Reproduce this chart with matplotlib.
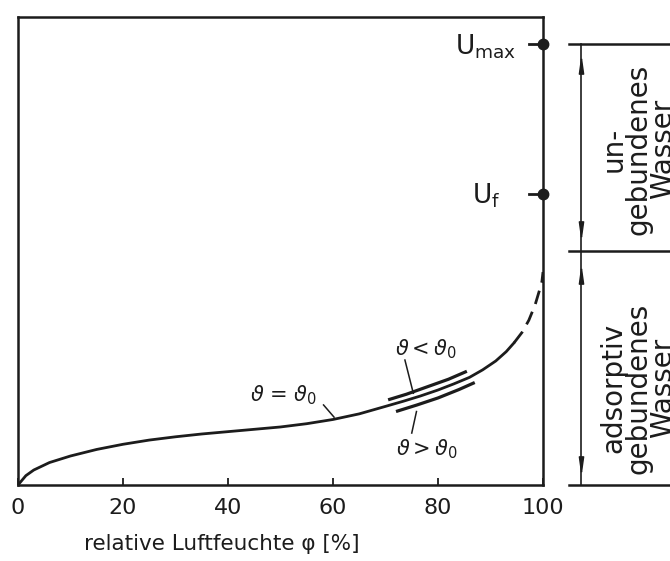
import numpy as np
import matplotlib.pyplot as plt

# sorption isotherm (phi in %, u in % of axis height)
phi = [0, 1.5, 3, 6, 10, 15, 20, 25, 30, 35, 40, 45, 50, 55, 60, 65, 70,
       73.4, 76.6, 80, 83, 86, 88.5, 91, 93, 94.5]
u = [0, 2.0, 3.2, 4.8, 6.2, 7.6, 8.7, 9.6, 10.3, 10.9, 11.4, 11.9, 12.4, 13.1,
     14.0, 15.2, 16.8, 17.9, 19.0, 20.3, 21.6, 23.0, 24.6, 26.5, 28.5, 30.4]

# dashed end towards 100 %
phi_tail = [94.5, 96.0, 97.3, 98.5, 99.3, 99.8, 100]
u_tail = [30.4, 32.6, 35.2, 38.5, 41.5, 43.5, 45.5]

# curves for other temperatures
phi_cold = [70.5, 74, 78, 82, 85.5]
u_cold = [18.2, 19.4, 21.0, 22.6, 24.3]
phi_warm = [72, 76, 80, 84, 87]
u_warm = [15.7, 17.1, 18.6, 20.4, 21.9]

U_MAX = 94.2
U_F = 62.2
U_BOUND = 50.0

xticks = [0, 20, 40, 60, 80, 100]

ink = '#1c1c1c'

fig = plt.figure(figsize=(6.7, 5.61), dpi=100)
ax = fig.add_axes([18 / 670, 76 / 561, 525 / 670, 468 / 561])

ax.plot(phi, u, color=ink, lw=2.0, solid_capstyle='round', solid_joinstyle='round')
ax.plot(phi_tail, u_tail, color=ink, lw=2.0, dashes=(5, 3))
ax.plot(phi_cold, u_cold, color=ink, lw=2.3, solid_capstyle='butt')
ax.plot(phi_warm, u_warm, color=ink, lw=2.3, solid_capstyle='butt')

# U_max / U_f points on right edge
for lvl in (U_MAX, U_F):
    ax.plot([97.4, 100], [lvl, lvl], color=ink, lw=2.0, clip_on=False)
    ax.plot([100], [lvl], 'o', color=ink, ms=7.5, clip_on=False)
ax.text(94.9, U_MAX - 0.6, r'$\mathregular{U_{max}}$', ha='right', va='center',
        fontsize=19, color=ink)
ax.text(91.9, U_F - 0.4, r'$\mathregular{U_f}$', ha='right', va='center',
        fontsize=19, color=ink)

# theta labels with leader lines
tfs = 15
ax.text(50.5, 19.2, r'$\vartheta$ = $\vartheta_0$', ha='center', va='center',
        fontsize=tfs, color=ink)
ax.plot([58.2, 60.2], [17.1, 14.5], color=ink, lw=1.1)
ax.text(77.7, 29.1, r'$\vartheta < \vartheta_0$', ha='center', va='center',
        fontsize=tfs, color=ink)
ax.plot([73.7, 75.3], [26.7, 19.6], color=ink, lw=1.1)
ax.text(77.8, 7.7, r'$\vartheta > \vartheta_0$', ha='center', va='center',
        fontsize=tfs, color=ink)
ax.plot([75.9, 75.0], [15.7, 11.1], color=ink, lw=1.1)

ax.set_xlim(0, 100)
ax.set_ylim(0, 100)
ax.set_xticks(xticks)
ax.set_xticklabels([str(t) for t in xticks], fontsize=16, color=ink)
ax.set_yticks([])
ax.tick_params(axis='x', direction='in', length=5, width=1.3, pad=9, colors=ink)
ax.set_xlabel('relative Luftfeuchte φ [%]', fontsize=15.5, color=ink)
ax.xaxis.set_label_coords(0.389, -0.104)
for s in ax.spines.values():
    s.set_linewidth(1.8)
    s.set_color(ink)

# bracket on the right
bx = fig.add_axes([560 / 670, 76 / 561, 110 / 670, 468 / 561])
bx.set_xlim(0, 110)
bx.set_ylim(0, 100)
bx.axis('off')
for lvl in (U_MAX, U_BOUND, 0):
    bx.plot([9, 115], [lvl, lvl], color=ink, lw=1.8, clip_on=False)
bx.plot([21, 21], [0, U_MAX], color=ink, lw=1.2, clip_on=False)
head = [(0, 1), (-0.28, -1), (0.28, -1), (0, 1)]
head_dn = [(0, -1), (-0.28, 1), (0.28, 1), (0, -1)]
bx.plot([21, 21], [89.5, 44.6], ls='none', marker=head, ms=11, color=ink,
        clip_on=False)
bx.plot([21, 21], [54.7, 4.4], ls='none', marker=head_dn, ms=11, color=ink,
        clip_on=False)
bx.text(78, 71.8, 'un-\ngebundenes\nWasser', rotation=90, ha='center',
        va='center', multialignment='center', fontsize=20, linespacing=0.85,
        color=ink, clip_on=False)
bx.text(78, 20.7, 'adsorptiv\ngebundenes\nWasser', rotation=90, ha='center',
        va='center', multialignment='center', fontsize=20, linespacing=0.85,
        color=ink, clip_on=False)

fig.savefig('out.png', dpi=100)
